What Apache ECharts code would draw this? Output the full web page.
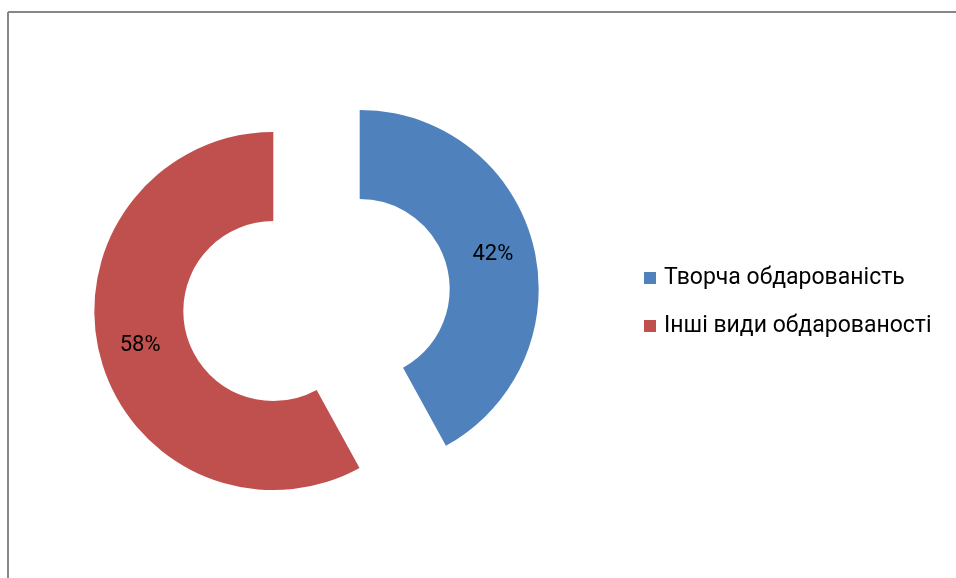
<!DOCTYPE html>
<html>
<head>
<meta charset="utf-8">
<script src="https://cdn.jsdelivr.net/npm/echarts@6/dist/echarts.min.js"></script>
<style>
  html, body { margin: 0; padding: 0; background: #fff; }
  #chart { width: 956px; height: 578px; }
</style>
</head>
<body>
<div id="chart"></div>
<script>
const categories = ['Творча обдарованість', 'Інші види обдарованості']
const shares = [42, 58]
const colors = ['#4f81bd', '#c0504d']

const chart = echarts.init(document.getElementById('chart'))

const option = {
  backgroundColor: '#fff',
  animation: false,
  // рамка області діаграми (видно лише ліву та верхню сторони)
  graphic: [
    { type: 'line', shape: { x1: 8, y1: 12, x2: 956, y2: 12 }, style: { stroke: '#878787', lineWidth: 2 } },
    { type: 'line', shape: { x1: 8, y1: 12, x2: 8, y2: 578 }, style: { stroke: '#878787', lineWidth: 2 } },
  ],
  legend: {
    orient: 'vertical',
    left: 639,
    top: 261,
    itemWidth: 12,
    itemHeight: 12,
    itemGap: 24,
    icon: 'rect',
    data: categories,
    textStyle: {
      color: '#000',
      fontSize: 23,
      lineHeight: 24,
      fontFamily: 'Roboto',
      padding: [0, 0, 0, 3],
    },
  },
  series: [
    {
      type: 'pie',
      center: [316.5, 300],
      radius: [90, 179],
      startAngle: 90,
      clockwise: true,
      selectedMode: 'multiple',
      selectedOffset: 44.6,
      label: {
        show: true,
        position: 'inside',
        formatter: '{d}%',
        color: '#000',
        fontSize: 22,
        fontFamily: 'Roboto',
      },
      labelLine: { show: false },
      emphasis: { disabled: true },
      data: categories.map((name, i) => ({
        name,
        value: shares[i],
        selected: true,
        itemStyle: { color: colors[i] },
      })),
    },
  ],
}

chart.setOption(option)
</script>
</body>
</html>
